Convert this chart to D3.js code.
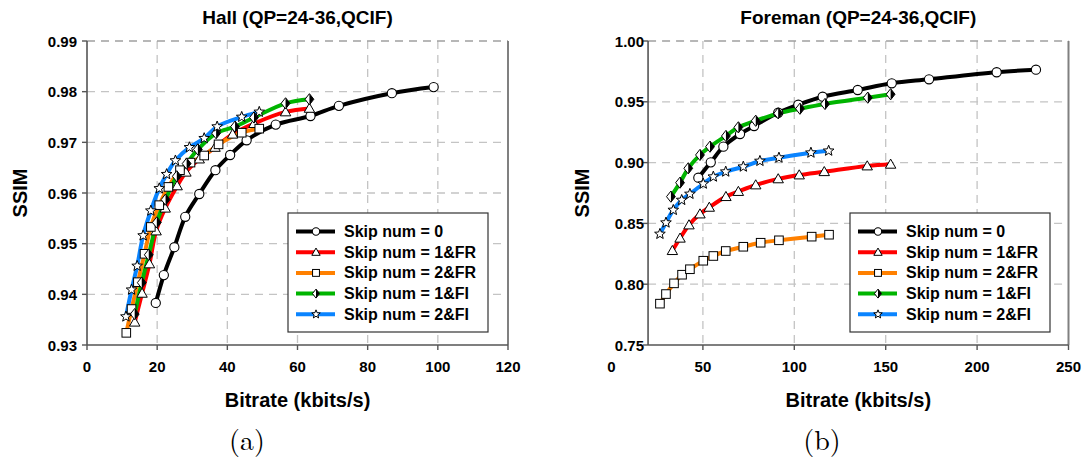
<!DOCTYPE html>
<html><head><meta charset="utf-8">
<script src="https://cdn.jsdelivr.net/npm/d3@7"></script>
<style>html,body{margin:0;padding:0;background:#fff;}svg{display:block;}</style>
</head><body>
<svg id="c" width="1087" height="466"></svg>
<script>
// ---------- DATA ----------
const seriesNames = ["Skip num = 0", "Skip num = 1&FR", "Skip num = 2&FR", "Skip num = 1&FI", "Skip num = 2&FI"];
const seriesColors = ["#000000", "#ff0000", "#ff8000", "#00b400", "#0a84ff"];
const seriesMarkers = ["circle", "triangle", "square", "diamond", "star"];

// Hall (QP=24-36, QCIF)
const hallRate0 = [19.6, 21.9, 24.9, 28.0, 32.0, 36.6, 40.8, 45.5, 53.8, 63.7, 71.8, 86.9, 98.8];
const hallSsim0 = [0.9383, 0.9438, 0.9493, 0.9553, 0.9598, 0.9645, 0.9675, 0.9704, 0.9735, 0.9752, 0.9772, 0.9797, 0.9809];
const hallRate1FR = [13.6, 15.7, 17.8, 19.7, 22.3, 25.7, 28.2, 32.0, 36.5, 41.5, 47.6, 56.6, 63.4];
const hallSsim1FR = [0.9345, 0.9402, 0.9460, 0.9525, 0.9570, 0.9614, 0.9641, 0.9667, 0.9690, 0.9716, 0.9737, 0.9760, 0.9767];
const hallRate2FR = [11.2, 12.7, 14.5, 16.4, 18.2, 20.6, 23.2, 26.5, 29.5, 33.4, 37.5, 44.1, 49.1];
const hallSsim2FR = [0.9324, 0.9371, 0.9424, 0.9480, 0.9533, 0.9576, 0.9612, 0.9645, 0.9660, 0.9674, 0.9696, 0.9719, 0.9727];
const hallRate1FI = [13.6, 15.6, 17.6, 19.9, 22.4, 25.6, 28.4, 31.6, 36.8, 42.2, 47.6, 56.6, 63.4];
const hallSsim1FI = [0.9361, 0.9423, 0.9478, 0.9542, 0.9587, 0.9633, 0.9658, 0.9686, 0.9718, 0.9731, 0.9749, 0.9777, 0.9785];
const hallRate2FI = [11.1, 12.7, 14.3, 16.0, 18.2, 20.6, 22.7, 25.2, 29.2, 33.4, 37.1, 44.1, 49.1];
const hallSsim2FI = [0.9356, 0.9409, 0.9456, 0.9516, 0.9565, 0.9609, 0.9637, 0.9664, 0.9690, 0.9708, 0.9731, 0.9750, 0.9760];

// Foreman (QP=24-36, QCIF)
const foreRate0 = [47.5, 54.3, 61.2, 70.3, 78.0, 91.2, 102.2, 115.5, 134.7, 153.3, 173.7, 210.7, 232.2];
const foreSsim0 = [0.8876, 0.9002, 0.9131, 0.9235, 0.9301, 0.9410, 0.9476, 0.9542, 0.9597, 0.9652, 0.9685, 0.9743, 0.9764];
const foreRate1FR = [33.3, 37.5, 42.4, 48.4, 53.5, 62.6, 69.4, 78.9, 91.2, 102.7, 116.4, 139.9, 152.7];
const foreSsim1FR = [0.8276, 0.8378, 0.8487, 0.8577, 0.8632, 0.8720, 0.8762, 0.8816, 0.8866, 0.8898, 0.8925, 0.8972, 0.8986];
const foreRate2FR = [26.5, 29.8, 34.2, 38.6, 42.9, 50.2, 55.7, 62.5, 72.1, 81.6, 91.6, 109.5, 119.0];
const foreSsim2FR = [0.7840, 0.7919, 0.8007, 0.8078, 0.8123, 0.8193, 0.8232, 0.8273, 0.8308, 0.8341, 0.8361, 0.8391, 0.8407];
const foreRate1FI = [32.5, 37.5, 42.0, 48.4, 53.9, 62.6, 69.4, 78.9, 91.2, 103.1, 116.8, 140.2, 152.7];
const foreSsim1FI = [0.8720, 0.8835, 0.8953, 0.9063, 0.9131, 0.9219, 0.9290, 0.9344, 0.9405, 0.9443, 0.9482, 0.9534, 0.9562];
const foreRate2FI = [26.5, 29.8, 33.8, 38.4, 42.9, 50.2, 55.7, 62.5, 72.1, 81.2, 91.6, 109.1, 118.8];
const foreSsim2FI = [0.8413, 0.8506, 0.8610, 0.8692, 0.8742, 0.8826, 0.8884, 0.8925, 0.8966, 0.9013, 0.9040, 0.9081, 0.9097];

// Axes / ticks
const hallXTicks = [0, 20, 40, 60, 80, 100, 120];
const hallYTicks = [0.93, 0.94, 0.95, 0.96, 0.97, 0.98, 0.99];
const foreXTicks = [0, 50, 100, 150, 200, 250];
const foreYTicks = [0.75, 0.80, 0.85, 0.90, 0.95, 1.00];

const zip = (r, s) => r.map((v, i) => [v, s[i]]);
const hallSeries = [zip(hallRate0, hallSsim0), zip(hallRate1FR, hallSsim1FR), zip(hallRate2FR, hallSsim2FR), zip(hallRate1FI, hallSsim1FI), zip(hallRate2FI, hallSsim2FI)];
const foreSeries = [zip(foreRate0, foreSsim0), zip(foreRate1FR, foreSsim1FR), zip(foreRate2FR, foreSsim2FR), zip(foreRate1FI, foreSsim1FI), zip(foreRate2FI, foreSsim2FI)];

// ---------- DRAW ----------
const svg = d3.select("#c");
const FONT = "'Liberation Sans', Arial, sans-serif";

function drawMarker(g, type, x, y, s) {
  s = s || 1;
  if (type === "circle") {
    g.append("circle").attr("cx", x).attr("cy", y).attr("r", 4.6 * s).attr("fill", "#fff").attr("stroke", "#000").attr("stroke-width", 1.1);
  } else if (type === "triangle") {
    const h = 5.2 * s;
    g.append("path").attr("d", `M${x},${y - h}L${x + h},${y + h * 0.75}L${x - h},${y + h * 0.75}Z`).attr("fill", "#fff").attr("stroke", "#000").attr("stroke-width", 1);
  } else if (type === "square") {
    const h = 4.3 * s;
    g.append("rect").attr("x", x - h).attr("y", y - h).attr("width", 2 * h).attr("height", 2 * h).attr("fill", "#fff").attr("stroke", "#000").attr("stroke-width", 1);
  } else if (type === "diamond") {
    const h = 5.6 * s, w = 4.4 * s;
    g.append("path").attr("d", `M${x},${y - h}L${x + w},${y}L${x},${y + h}L${x - w},${y}Z`).attr("fill", "#fff").attr("stroke", "#000").attr("stroke-width", 1);
    g.append("path").attr("d", `M${x},${y - h}L${x + w},${y}L${x},${y + h}Z`).attr("fill", "#000");
  } else if (type === "star") {
    const R = 5.6 * s, r = 2.4 * s;
    const pts = [];
    for (let i = 0; i < 10; i++) {
      const a = -Math.PI / 2 + i * Math.PI / 5;
      const rr = i % 2 === 0 ? R : r;
      pts.push([x + rr * Math.cos(a), y + rr * Math.sin(a)]);
    }
    g.append("path").attr("d", "M" + pts.map(p => p.join(",")).join("L") + "Z").attr("fill", "#fff").attr("stroke", "#000").attr("stroke-width", 1);
  }
}

function drawChart(cfg) {
  const g = svg.append("g");
  const x = d3.scaleLinear().domain(cfg.xDomain).range(cfg.xRange);
  const y = d3.scaleLinear().domain(cfg.yDomain).range([345, 41]);
  const left = x(cfg.plotMinX), right = x(cfg.xDomain[1]);
  const top = y(cfg.yDomain[1]), bottom = y(cfg.yDomain[0]);

  // grid
  cfg.xTicks.filter(t => x(t) > left + 1 && x(t) < right - 1).forEach(t => {
    g.append("line").attr("x1", x(t)).attr("x2", x(t)).attr("y1", top).attr("y2", bottom)
      .attr("stroke", "#c4c4c4").attr("stroke-width", 1.3).attr("stroke-dasharray", "8,6");
  });
  cfg.yTicks.filter(t => y(t) < bottom - 1).forEach(t => {
    g.append("line").attr("x1", left).attr("x2", right).attr("y1", y(t)).attr("y2", y(t))
      .attr("stroke", t === cfg.yDomain[1] ? "#a0a0a0" : "#c4c4c4").attr("stroke-width", 1.3).attr("stroke-dasharray", "8,6");
  });
  // right border
  g.append("line").attr("x1", right).attr("x2", right).attr("y1", top).attr("y2", bottom).attr("stroke", "#808080").attr("stroke-width", 2);

  // axes lines
  g.append("line").attr("x1", left).attr("x2", left).attr("y1", top).attr("y2", bottom).attr("stroke", "#555").attr("stroke-width", 1.6);
  g.append("line").attr("x1", left).attr("x2", right).attr("y1", bottom).attr("y2", bottom).attr("stroke", "#555").attr("stroke-width", 1.6);

  // y ticks
  cfg.yTicks.forEach(t => {
    g.append("line").attr("x1", left - 5).attr("x2", left).attr("y1", y(t)).attr("y2", y(t)).attr("stroke", "#555").attr("stroke-width", 1.4);
    g.append("text").attr("x", left - cfg.yLabelGap).attr("y", y(t) + 5.5).attr("text-anchor", "end")
      .attr("font-family", FONT).attr("font-weight", "bold").attr("font-size", 15).text(cfg.yFmt(t));
  });
  // x ticks
  cfg.xTicks.forEach(t => {
    if (x(t) >= left - 0.5) {
      g.append("line").attr("x1", x(t)).attr("x2", x(t)).attr("y1", bottom).attr("y2", bottom + 5).attr("stroke", "#555").attr("stroke-width", 1.4);
    }
    g.append("text").attr("x", x(t)).attr("y", bottom + 27).attr("text-anchor", "middle")
      .attr("font-family", FONT).attr("font-weight", "bold").attr("font-size", 15).text(t);
  });

  // title
  g.append("text").attr("x", (left + right) / 2).attr("y", 24).attr("text-anchor", "middle")
    .attr("font-family", FONT).attr("font-weight", "bold").attr("font-size", 19).text(cfg.title);
  // axis titles
  g.append("text").attr("x", (left + right) / 2).attr("y", 407).attr("text-anchor", "middle")
    .attr("font-family", FONT).attr("font-weight", "bold").attr("font-size", 20).text("Bitrate (kbits/s)");
  g.append("text").attr("transform", `translate(${cfg.yTitleX},${(top + bottom) / 2}) rotate(-90)`).attr("text-anchor", "middle")
    .attr("font-family", FONT).attr("font-weight", "bold").attr("font-size", 20).text("SSIM");
  // caption
  g.append("text").attr("x", cfg.captionX).attr("y", 450).attr("text-anchor", "middle")
    .attr("font-family", "'Latin Modern Roman','CMU Serif','Liberation Serif','DejaVu Serif',serif").attr("font-size", 28).text(cfg.caption);

  // series
  const line = d3.line().x(d => x(d[0])).y(d => y(d[1])).curve(d3.curveCatmullRom.alpha(0.5));
  const order = cfg.drawOrder;
  order.forEach(i => {
    g.append("path").attr("d", line(cfg.series[i])).attr("fill", "none").attr("stroke", seriesColors[i]).attr("stroke-width", 4).attr("stroke-linejoin", "round");
  });
  order.forEach(i => {
    const mg = g.append("g");
    cfg.series[i].forEach(d => drawMarker(mg, seriesMarkers[i], x(d[0]), y(d[1])));
  });

  // legend
  const lg = g.append("g").attr("transform", `translate(${cfg.legendX},${cfg.legendY})`);
  lg.append("rect").attr("x", 0).attr("y", 0).attr("width", 200).attr("height", 119).attr("fill", "#fff").attr("stroke", "#333").attr("stroke-width", 1.2);
  seriesNames.forEach((n, i) => {
    const yy = 18.5 + i * 20.7;
    lg.append("line").attr("x1", 8).attr("x2", 47).attr("y1", yy).attr("y2", yy).attr("stroke", seriesColors[i]).attr("stroke-width", 4);
    drawMarker(lg, seriesMarkers[i], 28, yy, 0.8);
    lg.append("text").attr("x", 56).attr("y", yy + 5.5).attr("font-family", FONT).attr("font-weight", "bold").attr("font-size", 16).text(n);
  });
}

drawChart({
  title: "Hall (QP=24-36,QCIF)", caption: "(a)", captionX: 247,
  xDomain: [0, 120], xRange: [87, 508], plotMinX: 0,
  yDomain: [0.93, 0.99], xTicks: hallXTicks, yTicks: hallYTicks, yFmt: d3.format(".2f"),
  yLabelGap: 10, yTitleX: 27, series: hallSeries, drawOrder: [0, 1, 2, 3, 4],
  legendX: 288, legendY: 213
});
drawChart({
  title: "Foreman (QP=24-36,QCIF)", caption: "(b)", captionX: 822,
  xDomain: [0, 250], xRange: [611.5, 1068.5], plotMinX: 20,
  yDomain: [0.75, 1.0], xTicks: foreXTicks, yTicks: foreYTicks, yFmt: d3.format(".2f"),
  yLabelGap: 4, yTitleX: 589, series: foreSeries, drawOrder: [0, 1, 2, 4, 3],
  legendX: 850, legendY: 213
});
</script>
</body></html>
